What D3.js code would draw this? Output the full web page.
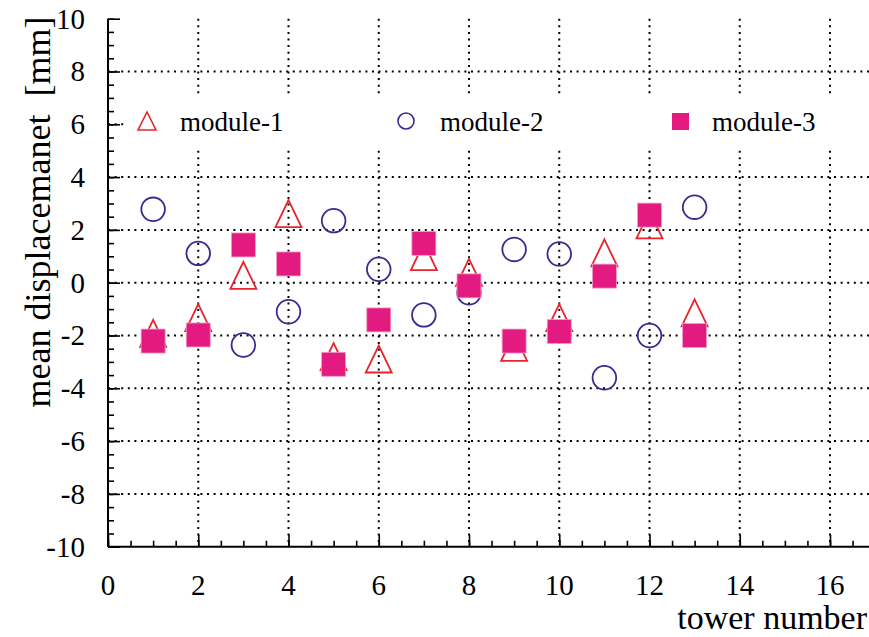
<!DOCTYPE html>
<html>
<head>
<meta charset="utf-8">
<script src="https://cdn.jsdelivr.net/npm/d3@7"></script>
<style>
  html, body { margin: 0; padding: 0; background: #fff; }
  svg { display: block; }
  text { font-family: "Liberation Serif", "Times New Roman", serif; fill: #000; }
</style>
</head>
<body>
<svg id="chart" width="869" height="637"></svg>
<script>
// ---- data ----
const towers   = [1, 2, 3, 4, 5, 6, 7, 8, 9, 10, 11, 12, 13];
const module1  = [-1.92, -1.32, 0.28, 2.62, -2.80, -2.89, 0.99, 0.39, -2.45, -1.32, 1.13, 2.19, -1.14];
const module2  = [2.78, 1.11, -2.36, -1.10, 2.35, 0.51, -1.22, -0.38, 1.26, 1.09, -3.60, -2.00, 2.86];
const module3  = [-2.21, -1.98, 1.43, 0.71, -3.09, -1.41, 1.49, -0.12, -2.21, -1.85, 0.25, 2.56, -2.00];
const seriesNames = ["module-1", "module-2", "module-3"];
const xTickValues = [0, 2, 4, 6, 8, 10, 12, 14, 16];
const yTickValues = [-10, -8, -6, -4, -2, 0, 2, 4, 6, 8, 10];
const xTitle = "tower number";
const yTitle = "mean displacemanet  [mm]";

const FONT = "'Liberation Serif', 'Times New Roman', serif";
const colTri = "#e8232b", colCirc = "#3b2a8f", colSq = "#e31a7f";

const svg = d3.select("#chart");
const x = d3.scaleLinear().domain([0, 17]).range([108, 108 + 17 * 45.125]);
const y = d3.scaleLinear().domain([-10, 10]).range([546.7, 18.7]);

// grid
const grid = svg.append("g");
grid.selectAll("line.vg").data(xTickValues.filter(v => v > 0)).enter().append("line")
  .attr("x1", d => x(d)).attr("x2", d => x(d))
  .attr("y1", y(10)).attr("y2", y(-10))
  .attr("stroke", "#000").attr("stroke-width", 2).attr("stroke-dasharray", "2,4.6");
grid.selectAll("line.hg").data(yTickValues.filter(v => v > -10 && v < 10)).enter().append("line")
  .attr("y1", d => y(d)).attr("y2", d => y(d))
  .attr("x1", x(0)).attr("x2", 869)
  .attr("stroke", "#000").attr("stroke-width", 2).attr("stroke-dasharray", "2,4.6");

// axes with inward ticks
const xMinor = d3.range(0, 17.01, 0.5);
const yMinor = d3.range(-10, 10.01, 0.5);
const xAxisMinor = d3.axisBottom(x).tickValues(xMinor).tickSize(-6).tickFormat("");
const xAxisMajor = d3.axisBottom(x).tickValues(xTickValues).tickSize(-12).tickFormat("");
const yAxisMinor = d3.axisLeft(y).tickValues(yMinor).tickSize(-6).tickFormat("");
const yAxisMajor = d3.axisLeft(y).tickValues(yTickValues).tickSize(-12).tickFormat("");

function styleAxis(g) {
  g.select(".domain").remove();
  g.selectAll(".tick line").attr("stroke", "#000").attr("stroke-width", 1.6);
}
svg.append("g").attr("transform", `translate(0,${y(-10)})`).call(xAxisMinor).call(styleAxis);
svg.append("g").attr("transform", `translate(0,${y(-10)})`).call(xAxisMajor).call(styleAxis);
svg.append("g").attr("transform", `translate(${x(0)},0)`).call(yAxisMinor).call(styleAxis);
svg.append("g").attr("transform", `translate(${x(0)},0)`).call(yAxisMajor).call(styleAxis);

// axis lines
svg.append("line").attr("x1", x(0)).attr("x2", 869).attr("y1", y(-10)).attr("y2", y(-10))
  .attr("stroke", "#000").attr("stroke-width", 2);
svg.append("line").attr("x1", x(0)).attr("x2", x(0)).attr("y1", y(10)).attr("y2", y(-10))
  .attr("stroke", "#000").attr("stroke-width", 2);

// tick labels
svg.append("g").selectAll("text").data(xTickValues).enter().append("text")
  .attr("x", d => x(d)).attr("y", 595)
  .attr("text-anchor", "middle").attr("font-size", 29).attr("font-family", FONT)
  .text(d => d);
svg.append("g").selectAll("text").data(yTickValues).enter().append("text")
  .attr("x", 85).attr("y", d => y(d)).attr("dy", "0.34em")
  .attr("text-anchor", "end").attr("font-size", 29).attr("font-family", FONT)
  .text(d => d);

// titles
svg.append("text").attr("x", 867).attr("y", 629).attr("text-anchor", "end")
  .attr("font-size", 34).attr("font-family", FONT).text(xTitle);
svg.append("text").attr("transform", "translate(50,212) rotate(-90)")
  .attr("text-anchor", "middle").attr("font-size", 36).attr("font-family", FONT)
  .style("white-space", "pre").text(yTitle);

// legend background box (hides grid behind legend)
svg.append("rect").attr("x", 126).attr("y", 98).attr("width", 743).attr("height", 48)
  .attr("fill", "#fff");

// markers
const triPath = (w, h) => `M0,${-h / 2}L${w / 2},${h / 2}L${-w / 2},${h / 2}Z`;
const pts = svg.append("g");
pts.selectAll("path.m1").data(towers).enter().append("path")
  .attr("d", triPath(26, 27))
  .attr("transform", (d, i) => `translate(${x(d)},${y(module1[i])})`)
  .attr("fill", "none").attr("stroke", colTri).attr("stroke-width", 1.8);
pts.selectAll("circle.m2").data(towers).enter().append("circle")
  .attr("cx", d => x(d)).attr("cy", (d, i) => y(module2[i])).attr("r", 11.8)
  .attr("fill", "none").attr("stroke", colCirc).attr("stroke-width", 1.8);
pts.selectAll("rect.m3").data(towers).enter().append("rect")
  .attr("x", d => x(d) - 12).attr("y", (d, i) => y(module3[i]) - 12)
  .attr("width", 24).attr("height", 24)
  .attr("fill", colSq).attr("stroke", "#f3a0c8").attr("stroke-width", 0.8);

// legend
const leg = svg.append("g");
leg.append("path").attr("d", triPath(18, 18)).attr("transform", "translate(147,121)")
  .attr("fill", "none").attr("stroke", colTri).attr("stroke-width", 1.6);
leg.append("circle").attr("cx", 406).attr("cy", 121).attr("r", 8)
  .attr("fill", "none").attr("stroke", colCirc).attr("stroke-width", 1.6);
leg.append("rect").attr("x", 672).attr("y", 113).attr("width", 17).attr("height", 17)
  .attr("fill", colSq);
const legX = [180, 440, 712];
leg.selectAll("text").data(seriesNames).enter().append("text")
  .attr("x", (d, i) => legX[i]).attr("y", 131).attr("font-size", 27).attr("font-family", FONT)
  .text(d => d);
</script>
</body>
</html>
